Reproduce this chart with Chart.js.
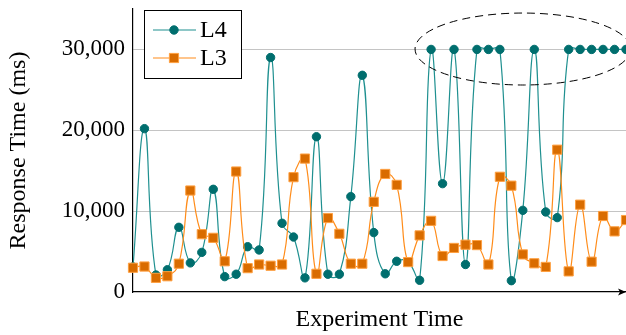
<!DOCTYPE html>
<html>
<head>
<meta charset="utf-8">
<script src="https://cdn.jsdelivr.net/npm/chart.js@4/dist/chart.umd.min.js"></script>
<style>
  html, body { margin: 0; padding: 0; background: #fff; }
  #wrap { width: 626px; height: 335px; }
</style>
</head>
<body>
<div id="wrap"><canvas id="respChart"></canvas></div>
<script>
// valores
const runs = Array.from({length: 44}, (_, i) => i + 1);
const l4Times = [3100, 20200, 2100, 2750, 8000, 3600, 4900, 12700, 1900, 2200, 5600, 5200, 29000, 8500,
  6800, 1750, 19200, 2200, 2200, 11800, 26800, 7350, 2250, 3800, 3750, 1450, 30000, 13400, 30000, 3400,
  30000, 30000, 30000, 1400, 10100, 30000, 9900, 9200, 30000, 30000, 30000, 30000, 30000, 30000];
const l3Times = [3000, 3150, 1750, 1950, 3500, 12550, 7150, 6700, 3800, 14900, 2950, 3400, 3250, 3400,
  14200, 16500, 2250, 9150, 7200, 3500, 3500, 11150, 14600, 13250, 3700, 7000, 8800, 4450, 5450, 5850,
  5800, 3400, 14250, 13150, 4650, 3550, 3100, 17600, 2550, 10800, 3750, 9400, 7500, 8900];
const yTicks = [0, 10000, 20000, 30000];

const serif = "'Liberation Serif', 'DejaVu Serif', serif";

// elipse punteada alrededor de los timeouts
const elipsePlugin = {
  id: 'elipse',
  afterDatasetsDraw(chart) {
    const {ctx, scales: {x, y}} = chart;
    const x0 = x.getPixelForValue(24.6), x1 = x.getPixelForValue(43.4);
    const y0 = y.getPixelForValue(34500), y1 = y.getPixelForValue(25600);
    ctx.save();
    ctx.beginPath();
    ctx.setLineDash([8, 5]);
    ctx.lineWidth = 1;
    ctx.strokeStyle = '#000';
    ctx.ellipse((x0 + x1) / 2, (y0 + y1) / 2, (x1 - x0) / 2, (y1 - y0) / 2, 0, 0, Math.PI * 2);
    ctx.stroke();
    ctx.restore();
  }
};

// leyenda con caja y flecha del eje x
const extrasPlugin = {
  id: 'extras',
  afterDraw(chart) {
    const {ctx, chartArea: a} = chart;
    // flecha
    ctx.save();
    ctx.fillStyle = '#000';
    ctx.beginPath();
    ctx.moveTo(a.right, a.bottom);
    ctx.lineTo(a.right - 8, a.bottom - 3.5);
    ctx.lineTo(a.right - 6, a.bottom);
    ctx.lineTo(a.right - 8, a.bottom + 3.5);
    ctx.closePath();
    ctx.fill();

    // leyenda
    const bx = a.left + 11, by = a.top + 1, bw = 97, bh = 68;
    ctx.fillStyle = '#fff';
    ctx.fillRect(bx, by, bw, bh);
    ctx.strokeStyle = '#000';
    ctx.lineWidth = 1;
    ctx.strokeRect(bx + 0.5, by + 0.5, bw, bh);
    chart.data.datasets.forEach((ds, i) => {
      const ry = by + 20 + i * 28;
      ctx.strokeStyle = ds.borderColor;
      ctx.lineWidth = ds.borderWidth;
      ctx.beginPath();
      ctx.moveTo(bx + 9, ry);
      ctx.lineTo(bx + 52, ry);
      ctx.stroke();
      ctx.fillStyle = ds.pointBackgroundColor;
      ctx.strokeStyle = ds.pointBorderColor;
      ctx.lineWidth = ds.pointBorderWidth;
      Chart.helpers.drawPoint(ctx, {pointStyle: ds.pointStyle, radius: ds.pointRadius, borderWidth: ds.pointBorderWidth}, bx + 30, ry);
      ctx.fillStyle = '#000';
      ctx.font = '24px ' + serif;
      ctx.textBaseline = 'middle';
      ctx.fillText(ds.label, bx + 56, ry + 1);
    });
    ctx.restore();
  }
};

const ctx = document.getElementById('respChart').getContext('2d');
new Chart(ctx, {
  type: 'line',
  data: {
    labels: runs,
    datasets: [{
      label: 'L4',
      data: l4Times,
      borderColor: '#1f9090',
      borderWidth: 1.2,
      pointStyle: 'circle',
      pointRadius: 4.2,
      pointBackgroundColor: '#006e6e',
      pointBorderColor: '#006e6e',
      pointBorderWidth: 1,
      tension: 0.45,
      order: 1
    }, {
      label: 'L3',
      data: l3Times,
      borderColor: '#ff8c1a',
      borderWidth: 1.2,
      pointStyle: 'rect',
      pointRadius: 6.5,
      pointBackgroundColor: '#d96c00',
      pointBorderColor: '#ffa040',
      pointBorderWidth: 1,
      tension: 0.45,
      order: 0
    }]
  },
  options: {
    responsive: true,
    maintainAspectRatio: false,
    animation: false,
    clip: false,
    layout: { autoPadding: false, padding: { top: 9, right: 0, left: 0, bottom: 0 } },
    plugins: { legend: { display: false }, tooltip: { enabled: false } },
    scales: {
      x: {
        offset: false,
        grid: { display: false, drawTicks: false },
        border: { display: true, color: '#000', width: 1.2 },
        ticks: { display: false },
        title: { display: true, text: 'Experiment Time', color: '#000', font: { family: serif, size: 24 }, padding: { top: 0, bottom: 1 } },
        afterFit(s) { s.height = 43; s.paddingLeft = 0; s.paddingRight = 0; }
      },
      y: {
        min: 0,
        max: 35000,
        afterBuildTicks(s) { s.ticks = yTicks.map(v => ({value: v})); },
        grid: {
          drawTicks: false,
          color: c => c.tick && c.tick.value === 0 ? 'rgba(0,0,0,0)' : '#c4c4c4',
          lineWidth: 1
        },
        border: { display: true, color: '#000', width: 1.2 },
        ticks: {
          color: '#000',
          padding: 8,
          font: { family: serif, size: 23 },
          callback: v => v.toLocaleString('en-US')
        },
        title: { display: true, text: 'Response Time (ms)', color: '#000', font: { family: serif, size: 24 }, padding: { top: 4, bottom: 0 } },
        afterFit(s) { s.width = 133; s.paddingTop = 0; s.paddingBottom = 0; }
      }
    }
  },
  plugins: [elipsePlugin, extrasPlugin]
});
</script>
</body>
</html>
